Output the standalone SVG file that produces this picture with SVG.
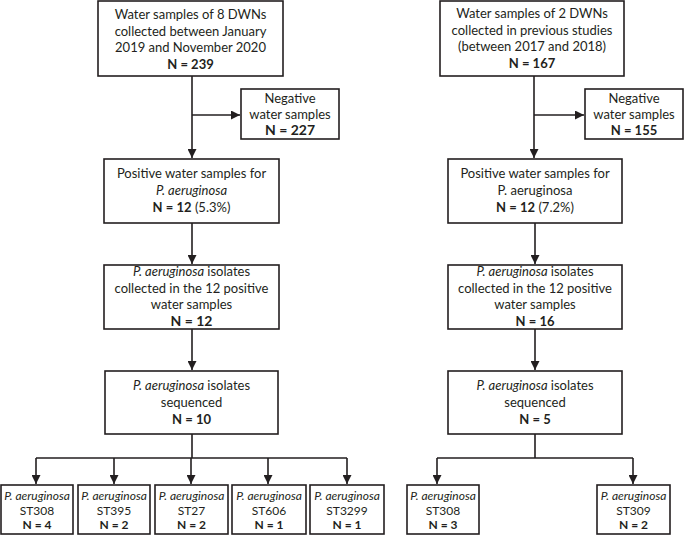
<svg xmlns="http://www.w3.org/2000/svg" width="685" height="536" viewBox="0 0 685 536">
<defs>
<style>
.box{fill:#fff;stroke:#231f20;stroke-width:1.6}
.t{font-family:Lato,"Liberation Sans",sans-serif;font-size:13px;fill:#231f20;text-anchor:middle}
.s{font-size:12px}
.b{font-weight:bold}
.bb{font-weight:bold;font-size:14px}
.i{font-style:italic}
.ln{fill:none;stroke:#231f20;stroke-width:1.6}
</style>
<marker id="ah" viewBox="0 0 10 10" refX="10" refY="5" markerWidth="9" markerHeight="9" markerUnits="userSpaceOnUse" orient="auto"><path d="M0,0 L10,5 L0,10 z" fill="#231f20"/></marker>
</defs>
<rect width="685" height="536" fill="#fff"/>
<g id="connectors">
<path class="ln" d="M192,76 V158" marker-end="url(#ah)"/>
<path class="ln" d="M192,115 H240" marker-end="url(#ah)"/>
<path class="ln" d="M192,223 V264" marker-end="url(#ah)"/>
<path class="ln" d="M192,329 V370" marker-end="url(#ah)"/>
<path class="ln" d="M192,434 V458 M36,458 H347"/>
<path class="ln" d="M36,458 V484" marker-end="url(#ah)"/>
<path class="ln" d="M114,458 V484" marker-end="url(#ah)"/>
<path class="ln" d="M191,458 V484" marker-end="url(#ah)"/>
<path class="ln" d="M268,458 V484" marker-end="url(#ah)"/>
<path class="ln" d="M347,458 V484" marker-end="url(#ah)"/>
<path class="ln" d="M534,76 V158" marker-end="url(#ah)"/>
<path class="ln" d="M534,115 H584" marker-end="url(#ah)"/>
<path class="ln" d="M535,223 V264" marker-end="url(#ah)"/>
<path class="ln" d="M535,329 V370" marker-end="url(#ah)"/>
<path class="ln" d="M535,434 V458 M437,458 H633"/>
<path class="ln" d="M437,458 V484" marker-end="url(#ah)"/>
<path class="ln" d="M633,458 V484" marker-end="url(#ah)"/>
</g>
<g id="n_top_left">
<rect class="box" x="98" y="1" width="185" height="75"/>
<text class="t" x="190.5" y="19">Water samples of 8 DWNs</text>
<text class="t" x="190.5" y="35.5">collected between January</text>
<text class="t" x="190.5" y="52">2019 and November 2020</text>
<text class="t b" x="190.5" y="68.5">N = 239</text>
</g>
<g id="n_neg_left">
<rect class="box" x="241" y="89" width="98" height="50"/>
<text class="t" x="290" y="103">Negative</text>
<text class="t" x="290" y="118.5">water samples</text>
<text class="t bb" x="290" y="135">N = 227</text>
</g>
<g id="n_pos_left">
<rect class="box" x="104" y="159" width="175" height="64"/>
<text class="t" x="191.5" y="178">Positive water samples for</text>
<text class="t i" x="191.5" y="195">P. aeruginosa</text>
<text class="t" x="191.5" y="212"><tspan class="b">N = 12</tspan> (5.3%)</text>
</g>
<g id="n_iso_left">
<rect class="box" x="104" y="265" width="175" height="64"/>
<text class="t" x="191.5" y="276"><tspan class="i">P. aeruginosa</tspan> isolates</text>
<text class="t" x="191.5" y="293">collected in the 12 positive</text>
<text class="t" x="191.5" y="309">water samples</text>
<text class="t bb" x="191.5" y="326">N = 12</text>
</g>
<g id="n_seq_left">
<rect class="box" x="105" y="371" width="173" height="63"/>
<text class="t" x="191.5" y="390"><tspan class="i">P. aeruginosa</tspan> isolates</text>
<text class="t" x="191.5" y="407">sequenced</text>
<text class="t b" x="191.5" y="423.5">N = 10</text>
</g>
<g id="n_st308_left">
<rect class="box" x="1" y="485" width="72" height="49"/>
<text class="t s i" x="37" y="500">P. aeruginosa</text>
<text class="t s" x="37" y="515">ST308</text>
<text class="t s b" x="37" y="529">N = 4</text>
</g>
<g id="n_st395">
<rect class="box" x="78" y="485" width="72" height="49"/>
<text class="t s i" x="114" y="500">P. aeruginosa</text>
<text class="t s" x="114" y="515">ST395</text>
<text class="t s b" x="114" y="529">N = 2</text>
</g>
<g id="n_st27">
<rect class="box" x="155" y="485" width="73" height="49"/>
<text class="t s i" x="191.5" y="500">P. aeruginosa</text>
<text class="t s" x="191.5" y="515">ST27</text>
<text class="t s b" x="191.5" y="529">N = 2</text>
</g>
<g id="n_st606">
<rect class="box" x="232" y="485" width="74" height="49"/>
<text class="t s i" x="269" y="500">P. aeruginosa</text>
<text class="t s" x="269" y="515">ST606</text>
<text class="t s b" x="269" y="529">N = 1</text>
</g>
<g id="n_st3299">
<rect class="box" x="310" y="485" width="74" height="49"/>
<text class="t s i" x="347" y="500">P. aeruginosa</text>
<text class="t s" x="347" y="515">ST3299</text>
<text class="t s b" x="347" y="529">N = 1</text>
</g>
<g id="n_top_right">
<rect class="box" x="440" y="1" width="184" height="75"/>
<text class="t" x="532" y="18">Water samples of 2 DWNs</text>
<text class="t" x="532" y="34.5">collected in previous studies</text>
<text class="t" x="532" y="51">(between 2017 and 2018)</text>
<text class="t b" x="532" y="67.5">N = 167</text>
</g>
<g id="n_neg_right">
<rect class="box" x="585" y="89" width="98" height="50"/>
<text class="t" x="634" y="103">Negative</text>
<text class="t" x="634" y="118.5">water samples</text>
<text class="t b" x="634" y="135">N = 155</text>
</g>
<g id="n_pos_right">
<rect class="box" x="448" y="159" width="174" height="64"/>
<text class="t" x="535" y="178">Positive water samples for</text>
<text class="t" x="535" y="195">P. aeruginosa</text>
<text class="t" x="535" y="212"><tspan class="b">N = 12</tspan> (7.2%)</text>
</g>
<g id="n_iso_right">
<rect class="box" x="448" y="265" width="174" height="64"/>
<text class="t" x="535" y="276"><tspan class="i">P. aeruginosa</tspan> isolates</text>
<text class="t" x="535" y="293">collected in the 12 positive</text>
<text class="t" x="535" y="309">water samples</text>
<text class="t b" x="535" y="326">N = 16</text>
</g>
<g id="n_seq_right">
<rect class="box" x="448" y="371" width="174" height="63"/>
<text class="t" x="535" y="390"><tspan class="i">P. aeruginosa</tspan> isolates</text>
<text class="t" x="535" y="407">sequenced</text>
<text class="t b" x="535" y="423.5">N = 5</text>
</g>
<g id="n_st308_right">
<rect class="box" x="407" y="485" width="72" height="49"/>
<text class="t s i" x="443" y="500">P. aeruginosa</text>
<text class="t s" x="443" y="515">ST308</text>
<text class="t s b" x="443" y="529">N = 3</text>
</g>
<g id="n_st309">
<rect class="box" x="597" y="485" width="73" height="49"/>
<text class="t s i" x="633.5" y="500">P. aeruginosa</text>
<text class="t s" x="633.5" y="515">ST309</text>
<text class="t s b" x="633.5" y="529">N = 2</text>
</g>
</svg>
